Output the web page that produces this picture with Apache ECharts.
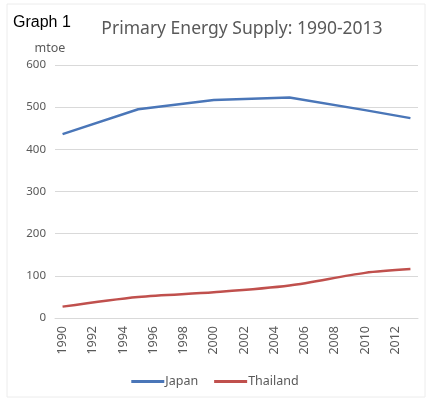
<!DOCTYPE html>
<html>
<head>
<meta charset="utf-8">
<script src="https://cdn.jsdelivr.net/npm/echarts@6/dist/echarts.min.js"></script>
<style>
  html, body { margin: 0; padding: 0; background: #fff; }
  #chart { width: 430px; height: 405px; }
</style>
</head>
<body>
<div id="chart"></div>
<script>
// Primary energy supply, mtoe — values at 5-year marks
const years = [];
for (let y = 1990; y <= 2013; y++) years.push(String(y));

const japan = [
  436, null, null, null, null,
  495, null, null, null, null,
  517, null, null, null, null,
  523, null, null, null, null,
  493, null, null,
  474
];
const thailand = [
  27, null, null, null, null,
  50, null, null, null, null,
  61, null, null, null, null,
  77, null, null, null, null,
  107, null, null,
  116
];
const yTicks = { min: 0, max: 600, interval: 100 };

const font = 'Noto Sans';
const grey = '#595959';

const chart = echarts.init(document.getElementById('chart'));
chart.setOption({
  animation: false,
  textStyle: { fontFamily: font },
  graphic: [{
    type: 'rect',
    shape: { x: 7, y: 4, width: 418, height: 393 },
    style: { fill: 'none', stroke: '#ececec', lineWidth: 1 },
    silent: true,
  }],
  title: [
    {
      text: 'Graph 1',
      left: 8, top: 10,
      textStyle: { fontFamily: 'Liberation Sans', fontSize: 16, fontWeight: 'normal', color: '#000' },
    },
    {
      text: 'Primary Energy Supply: 1990-2013',
      left: 237, top: 15, textAlign: 'center',
      textStyle: { fontFamily: font, fontSize: 17.5, fontWeight: 'normal', color: grey },
    },
  ],
  legend: {
    bottom: 12,
    left: 'center',
    itemWidth: 33, itemHeight: 3, itemGap: 16,
    icon: 'rect',
    textStyle: { color: grey, fontSize: 12.5, padding: [0, 0, 0, -4] },
    data: ['Japan', 'Thailand'],
  },
  grid: { left: 55, right: 12, top: 65, bottom: 87 },
  xAxis: {
    type: 'category',
    data: years,
    boundaryGap: true,
    axisLine: { show: true, lineStyle: { color: '#d9d9d9' } },
    axisTick: { show: false },
    axisLabel: { color: grey, fontSize: 12.5, rotate: 90, interval: 1, margin: 8 },
  },
  yAxis: {
    type: 'value',
    min: yTicks.min, max: yTicks.max, interval: yTicks.interval,
    name: 'mtoe',
    nameLocation: 'end',
    nameGap: 10,
    nameTextStyle: { color: grey, fontSize: 12.5, align: 'center', padding: [0, 10, 0, 0] },
    axisLine: { show: false },
    axisTick: { show: false },
    axisLabel: { color: grey, fontSize: 11.5, margin: 9 },
    splitLine: { lineStyle: { color: '#d9d9d9' } },
  },
  series: [
    {
      name: 'Japan', type: 'line',
      data: japan,
      connectNulls: true,
      showSymbol: false, symbol: 'none',
      lineStyle: { color: '#4a76b8', width: 2.5 },
      itemStyle: { color: '#4a76b8' },
    },
    {
      name: 'Thailand', type: 'line',
      data: thailand,
      connectNulls: true,
      smooth: 0.3,
      showSymbol: false, symbol: 'none',
      lineStyle: { color: '#c0504d', width: 2.5 },
      itemStyle: { color: '#c0504d' },
    },
  ],
});
</script>
</body>
</html>
